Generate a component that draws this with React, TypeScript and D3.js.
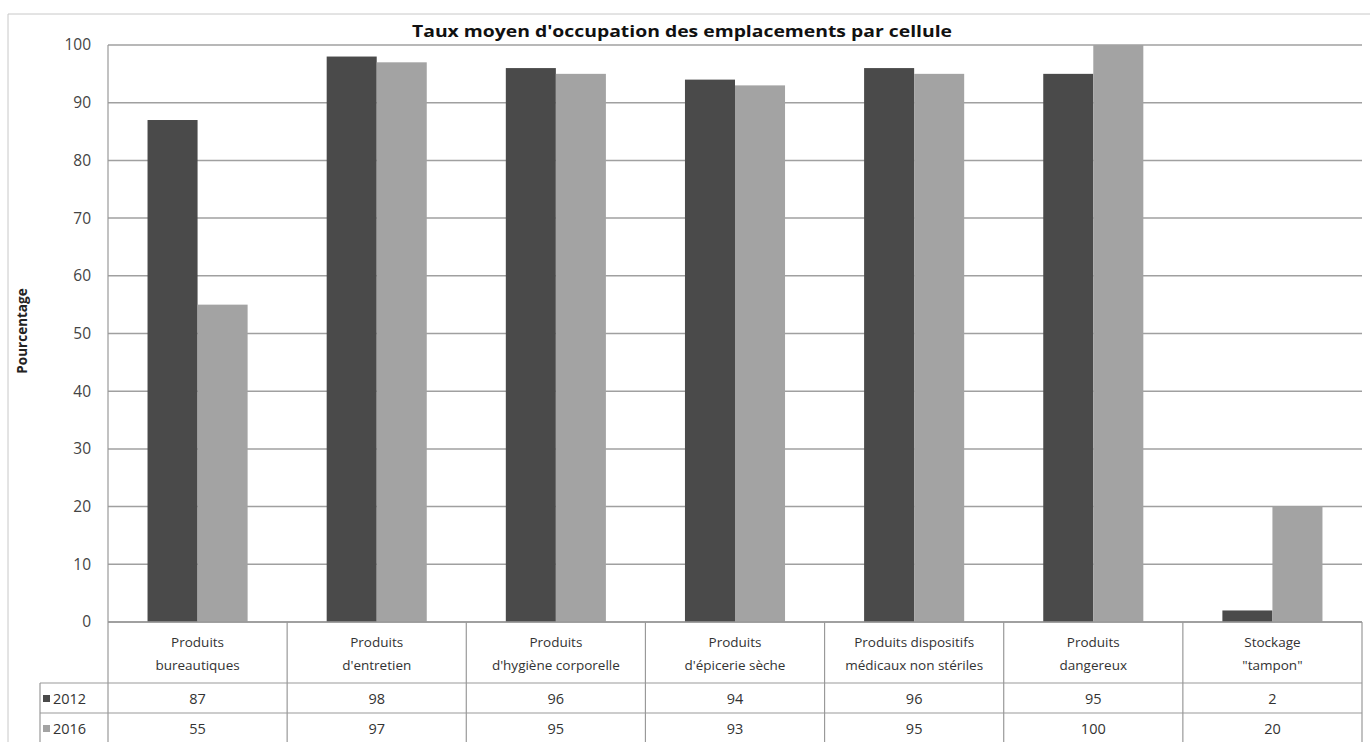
import React from "react";
import * as d3 from "d3";

const categories: string[][] = [
  ["Produits", "bureautiques"],
  ["Produits", "d'entretien"],
  ["Produits", "d'hygiène corporelle"],
  ["Produits", "d'épicerie sèche"],
  ["Produits dispositifs", "médicaux  non stériles"],
  ["Produits", "dangereux"],
  ["Stockage", "\"tampon\""],
];
const series = ["2012", "2016"];
const values2012 = [87, 98, 96, 94, 96, 95, 2];
const values2016 = [55, 97, 95, 93, 95, 100, 20];
const yTicks = [0, 10, 20, 30, 40, 50, 60, 70, 80, 90, 100];
const title = "Taux moyen d'occupation des emplacements par cellule";
const yLabel = "Pourcentage";

const W = 1370;
const H = 742;
const left = 108;
const right = 1362;
const top = 45;
const bottom = 622;
const colors = ["#4a4a4a", "#a3a3a3"];
const font = "'Open Sans', sans-serif";

export default function App() {
  const x = d3.scaleBand<number>().domain(d3.range(categories.length)).range([left, right]).padding(0);
  const xs = d3.scaleBand<string>().domain(series).range([0, x.bandwidth()]).paddingInner(0).paddingOuter(0.79);
  const y = d3.scaleLinear().domain([0, 100]).range([bottom, top]);
  const data = [values2012, values2016];
  const row1 = 683;
  const row2 = 713;
  const legLeft = 40;
  const cx = (i: number) => (x(i) as number) + x.bandwidth() / 2;
  return (
    <svg width={W} height={H} style={{ position: "absolute", left: 0, top: 0, display: "block", background: "#fff" }} fontFamily={font}>
      <rect x={0} y={0} width={W} height={H} fill="#fff" />
      {/* outer border */}
      <line x1={8} x2={8} y1={14} y2={H} stroke="#c8c8c8" />
      <line x1={8} x2={W} y1={14} y2={14} stroke="#c8c8c8" />
      {/* gridlines */}
      {yTicks.map((t) => (
        <line key={t} x1={left} x2={right} y1={y(t)} y2={y(t)} stroke="#a0a0a0" strokeWidth={1.5} />
      ))}
      {yTicks.map((t) => (
        <text key={"l" + t} x={91} y={y(t)} dy="0.35em" textAnchor="end" fontSize={15.5} fill="#444">
          {t}
        </text>
      ))}
      <text transform={`translate(27,${331}) rotate(-90)`} textAnchor="middle" fontSize={13.5} fontWeight="bold" fill="#222">
        {yLabel}
      </text>
      <text x={682} y={37} textAnchor="middle" fontSize={16.5} fontWeight="bold" fill="#111" textLength={540} lengthAdjust="spacingAndGlyphs">
        {title}
      </text>
      {/* bars */}
      {categories.map((_, i) => (
        <g key={i} transform={`translate(${x(i)},0)`}>
          {series.map((s, j) => (
            <rect key={s} x={xs(s)} y={y(data[j][i])} width={xs.bandwidth()} height={bottom - y(data[j][i])} fill={colors[j]} />
          ))}
        </g>
      ))}
      {/* table lines */}
      <line x1={left} x2={left} y1={top} y2={H} stroke="#999" strokeWidth={1.2} />
      <line x1={left} x2={right} y1={bottom} y2={bottom} stroke="#999" strokeWidth={1.5} />
      <line x1={legLeft} x2={right} y1={row1} y2={row1} stroke="#999" strokeWidth={1.2} />
      <line x1={legLeft} x2={right} y1={row2} y2={row2} stroke="#999" strokeWidth={1.2} />
      <line x1={legLeft} x2={legLeft} y1={row1} y2={H} stroke="#999" strokeWidth={1.2} />
      {categories.map((_, i) => (
        <line key={"v" + i} x1={(x(i) as number) + x.bandwidth()} x2={(x(i) as number) + x.bandwidth()} y1={bottom} y2={H} stroke="#999" strokeWidth={1.2} />
      ))}
      {categories.map((c, i) => (
        <g key={"c" + i}>
          {c.map((line, k) => (
            <text key={k} x={cx(i)} y={642 + k * 23} dy="0.35em" textAnchor="middle" fontSize={13.5} fill="#333">
              {line}
            </text>
          ))}
          <text x={cx(i)} y={(row1 + row2) / 2 + 1} dy="0.35em" textAnchor="middle" fontSize={14.5} fill="#333">
            {values2012[i]}
          </text>
          <text x={cx(i)} y={row2 + 16} dy="0.35em" textAnchor="middle" fontSize={14.5} fill="#333">
            {values2016[i]}
          </text>
        </g>
      ))}
      {series.map((s, j) => (
        <g key={"lg" + s} transform={`translate(0,${j === 0 ? (row1 + row2) / 2 + 1 : row2 + 16})`}>
          <rect x={43} y={-4} width={7} height={7} fill={colors[j]} />
          <text x={53} y={0} dy="0.35em" fontSize={14.5} fill="#333">
            {s}
          </text>
        </g>
      ))}
    </svg>
  );
}
